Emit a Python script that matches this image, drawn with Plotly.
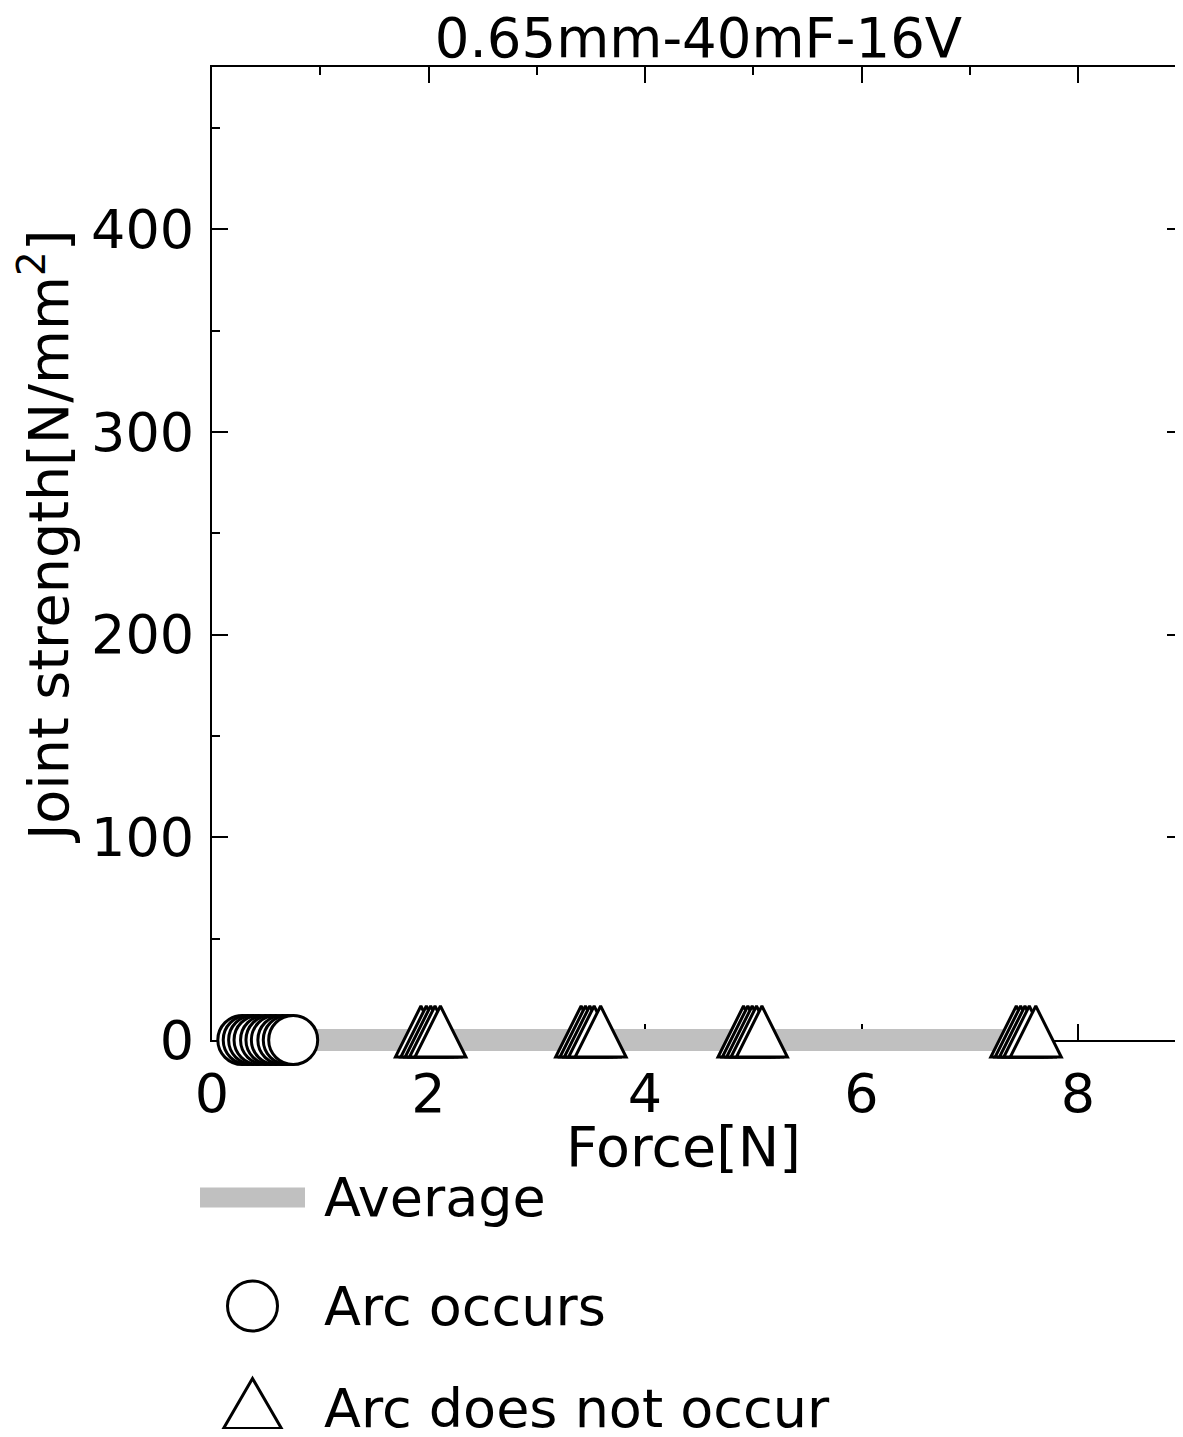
import plotly.graph_objects as go

# ---------------- data ----------------
title_text = "0.65mm-40mF-16V"
x_title = "Force[N]"
y_title = "Joint strength[N/mm<sup>2</sup>]"

arc_force = [0.28, 0.33, 0.38, 0.43, 0.49, 0.54, 0.59, 0.65, 0.70, 0.75]
arc_strength = [0, 0, 0, 0, 0, 0, 0, 0, 0, 0]

noarc_force = [1.93, 1.98, 2.02, 2.06, 2.11,
               3.41, 3.45, 3.49, 3.53, 3.59,
               4.91, 4.95, 4.99, 5.03, 5.08,
               7.43, 7.47, 7.51, 7.55, 7.61]
noarc_strength = [0, 0, 0, 0, 0,
                  0, 0, 0, 0, 0,
                  0, 0, 0, 0, 0,
                  0, 0, 0, 0, 0]

avg_force = [0.51, 2.02, 3.49, 4.99, 7.51]
avg_strength = [0, 0, 0, 0, 0]

x_ticks = [0, 2, 4, 6, 8]
x_ticktext = ["0", "2", "4", "6", "8"]
y_ticks = [0, 100, 200, 300, 400]
y_ticktext = ["0", "100", "200", "300", "400"]

legend_names = ["Average", "Arc occurs", "Arc does not occur"]

# ---------------- layout geometry (figure pixels) ----------------
W, H = 1175, 1421
LOWER_EDGE = 1062
L, R, T, B = 204, 0, 59, H - LOWER_EDGE
AW = W - L - R
AH = H - T - B
X_RANGE = [0, 8.97]
Y_RANGE = [0, 480]
AXIS_BOTTOM_PX = 1032


def px(x):
    return (x - L) / AW


def py(y):
    return (H - B - y) / AH


d = py(AXIS_BOTTOM_PX)
y2_lo = Y_RANGE[0] - (Y_RANGE[1] - Y_RANGE[0]) * d / (1 - d)

FONT = "DejaVu Sans"
FS = 54
GRAY = "#c0c0c0"

fig = go.Figure()

# invisible copies on the framed subplot so that its axes get drawn
fig.add_trace(go.Scatter(
    x=avg_force, y=avg_strength, mode="lines", name=legend_names[0],
    line=dict(color="rgba(0,0,0,0)", width=1), xaxis="x", yaxis="y",
    showlegend=False, hoverinfo="skip"))
fig.add_trace(go.Scatter(
    x=avg_force, y=avg_strength, mode="lines", name=legend_names[0],
    line=dict(color="rgba(0,0,0,0)", width=1), xaxis="x", yaxis="y3",
    showlegend=False, hoverinfo="skip"))

fig.add_trace(go.Scatter(
    x=avg_force, y=avg_strength, mode="lines", name=legend_names[0],
    line=dict(color=GRAY, width=22), xaxis="x2", yaxis="y2",
    showlegend=False, hoverinfo="skip"))

fig.add_trace(go.Scatter(
    x=arc_force, y=arc_strength, mode="markers", name=legend_names[1],
    marker=dict(symbol="circle", size=49, color="white",
                line=dict(color="black", width=3)),
    xaxis="x2", yaxis="y2", cliponaxis=False, showlegend=False))

fig.add_trace(go.Scatter(
    x=noarc_force, y=noarc_strength, mode="markers", name=legend_names[2],
    marker=dict(symbol="arrow-down", angle=180, standoff=34, size=51,
                color="white", line=dict(color="black", width=3)),
    xaxis="x2", yaxis="y2", cliponaxis=False, showlegend=False))

axis_common = dict(
    ticks="inside", ticklen=16, tickwidth=2, tickcolor="black",
    showgrid=False, zeroline=False,
    linecolor="black", linewidth=2,
    tickfont=dict(family=FONT, size=FS, color="black"),
)
minor_common = dict(ticks="inside", ticklen=8, tickwidth=2,
                    tickcolor="black", showgrid=False)

fig.update_layout(
    width=W, height=H,
    margin=dict(l=L, r=R, t=T, b=B, pad=0),
    paper_bgcolor="white", plot_bgcolor="rgba(0,0,0,0)",
    font=dict(family=FONT, size=FS, color="black"),
    showlegend=False,
    title=dict(text=title_text, x=690.5 / W, xref="container",
               y=1 - 30 / H, yref="container",
               xanchor="center", yanchor="middle",
               font=dict(family=FONT, size=54.5, color="black")),
    xaxis=dict(domain=[0, 1], range=X_RANGE, anchor="y",
               showline=True, mirror="ticks",
               tickmode="array", tickvals=x_ticks, ticktext=x_ticktext,
               ticklabelstandoff=5,
               minor=dict(dtick=1, tick0=0, **minor_common),
               **axis_common),
    yaxis=dict(domain=[d, 1], range=Y_RANGE, anchor="x",
               showline=True, mirror=False,
               tickmode="array", tickvals=y_ticks, ticktext=y_ticktext,
               ticklabelstandoff=5,
               minor=dict(dtick=50, tick0=0, **minor_common),
               **axis_common),
    yaxis3=dict(overlaying="y", side="right", anchor="x", range=Y_RANGE,
                showline=False, showticklabels=False,
                tickmode="array", tickvals=y_ticks,
                minor=dict(dtick=50, tick0=0, **minor_common),
                **axis_common),
    xaxis2=dict(domain=[0, 1], range=X_RANGE, anchor="y2", visible=False),
    yaxis2=dict(domain=[0, 1], range=[y2_lo, Y_RANGE[1]], anchor="x2",
                visible=False),
)

# axis titles
fig.add_annotation(text=x_title, xref="paper", yref="paper",
                   x=px(675), y=py(1138), xanchor="center", yanchor="middle",
                   showarrow=False, font=dict(family=FONT, size=55.5))
fig.add_annotation(text=y_title, xref="paper", yref="paper",
                   x=px(37), y=py(529), xanchor="center", yanchor="middle",
                   textangle=-90, showarrow=False,
                   font=dict(family=FONT, size=55.5))

# ---------------- manual legend ----------------
legend_sym_rows = [1189.5, 1298, 1395.5]
legend_text_rows = [1189, 1298, 1400]
sym_x_px = 244.5
text_x_px = 314

fig.add_shape(type="rect", xref="paper", yref="paper",
              xsizemode="pixel", ysizemode="pixel",
              xanchor=px(sym_x_px), yanchor=py(legend_sym_rows[0]),
              x0=-52.5, x1=52.5, y0=-10, y1=10,
              fillcolor=GRAY, line=dict(width=0))
fig.add_shape(type="circle", xref="paper", yref="paper",
              xsizemode="pixel", ysizemode="pixel",
              xanchor=px(sym_x_px), yanchor=py(legend_sym_rows[1]),
              x0=-25, x1=25, y0=-25, y1=25,
              fillcolor="white", line=dict(color="black", width=3))
fig.add_shape(type="path", xref="paper", yref="paper",
              xsizemode="pixel", ysizemode="pixel",
              xanchor=px(sym_x_px), yanchor=py(legend_sym_rows[2]),
              path="M-29,-25 L29,-25 L0,25 Z",
              fillcolor="white", line=dict(color="black", width=3))

for name, row in zip(legend_names, legend_text_rows):
    fig.add_annotation(text=name, xref="paper", yref="paper",
                       x=px(text_x_px), y=py(row),
                       xanchor="left", yanchor="middle", showarrow=False,
                       font=dict(family=FONT, size=FS))

fig.write_html("out.html")
